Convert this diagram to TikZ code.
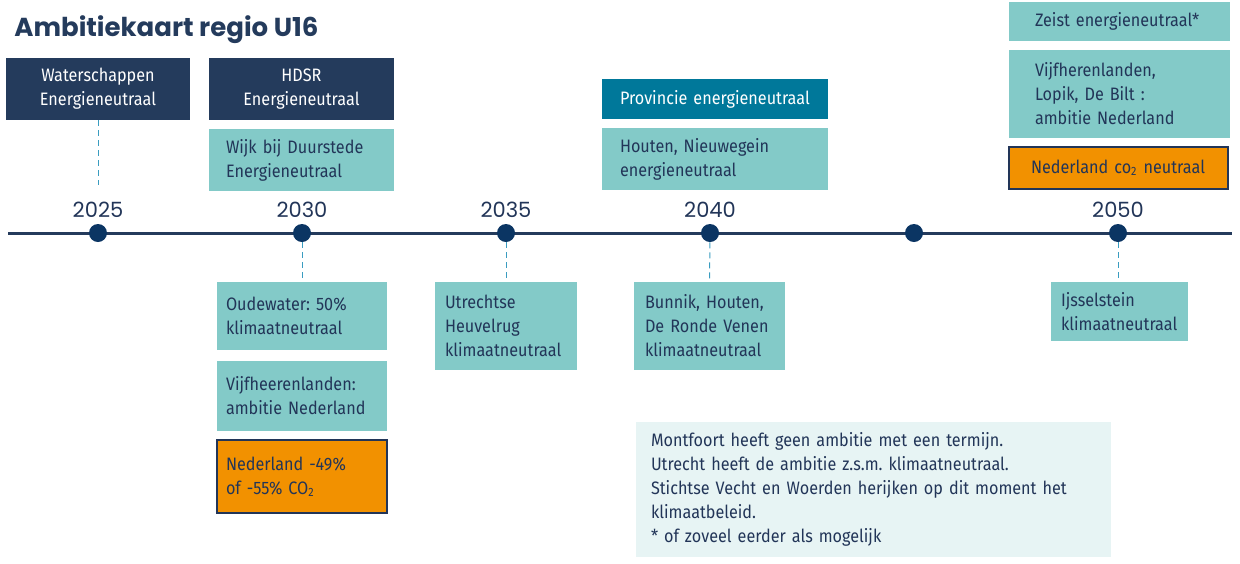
\documentclass[tikz,border=0pt]{standalone}
\usepackage{fontspec}
\setmainfont{Fira Sans}[FakeStretch=0.9]
\newfontfamily\poppins{Poppins}
\usetikzlibrary{positioning}
\frenchspacing
\definecolor{navy}{HTML}{243B5C}
\definecolor{ink}{HTML}{223558}
\definecolor{lagoon}{HTML}{83CAC8}
\definecolor{petrol}{HTML}{00789A}
\definecolor{oranje}{HTML}{F29100}
\definecolor{mist}{HTML}{E7F4F4}
\definecolor{dotblue}{HTML}{0B3563}
\definecolor{dashblue}{HTML}{3A9CC0}

\begin{document}
\begin{tikzpicture}[x=0.5pt,y=-0.5pt,
  every node/.style={font=\fontsize{9}{12}\selectfont},
  darkbox/.style={fill=navy,text=white,align=center,inner sep=0pt},
  lightbox/.style={fill=lagoon,text=ink,align=left,inner ysep=0pt},
  accentbox/.style={fill=petrol,text=white,align=left,inner ysep=0pt},
  targetbox/.style={fill=oranje,draw=ink,line width=1pt,text=ink,align=left,inner ysep=0pt},
  notebox/.style={fill=mist,text=ink,align=left,inner ysep=0pt},
  dot/.style={circle,fill=dotblue,minimum size=9pt,inner sep=0pt},
  year/.style={font=\poppins\fontsize{10.5}{12}\selectfont,text=ink},
  dropline/.style={dashblue,densely dashed,line width=0.5pt}]
\useasboundingbox (0,0) rectangle (1240,563);

% titel
\node[anchor=base west,inner sep=0pt,text=navy,font=\poppins\bfseries\fontsize{13}{15}\selectfont]
  (titel) at (14,36) {Ambitiekaart regio U16};

% tijdlijn
\coordinate (links) at (8,233);
\coordinate (rechts) at (1232,233);
\draw[navy,line width=1.5pt] (links) -- (rechts);
\node[dot] (d25) at (98,233) {};
\node[dot] (d30) at (302,233) {};
\node[dot] (d35) at (506,233) {};
\node[dot] (d40) at (710,233) {};
\node[dot] (d45) at (914,233) {};
\node[dot] (d50) at (1118,233) {};
\node[year] (j25) at (98,210) {2025};
\node[year] (j30) at (302,210) {2030};
\node[year] (j35) at (506,210) {2035};
\node[year] (j40) at (710,210) {2040};
\node[year] (j50) at (1118,210) {2050};

% boven de lijn
\node[darkbox,text width=92pt,minimum height=31pt] (water) at (98,89) {Waterschappen\\Energieneutraal};
\node[darkbox,text width=92.5pt,minimum height=31pt] (hdsr) at (301.5,89) {HDSR\\Energieneutraal};
\node[lightbox,inner xsep=8.5pt,text width=75.5pt,minimum height=31pt] (wijk) at (301.5,160) {Wijk bij Duurstede\\Energieneutraal};
\node[accentbox,inner xsep=9pt,text width=95pt,minimum height=20pt] (prov) at (715,99) {Provincie energieneutraal};
\node[lightbox,inner xsep=9pt,text width=95pt,minimum height=31pt] (houten) at (715,159) {Houten, Nieuwegein\\energieneutraal};
\node[lightbox,inner xsep=13pt,text width=84.5pt,minimum height=19.5pt] (zeist) at (1119.5,21.5) {Zeist energieneutraal*};
\node[lightbox,inner xsep=13pt,text width=84.5pt,minimum height=44pt] (lopik) at (1119.5,94) {Vijfherenlanden,\\Lopik, De Bilt :\\ambitie Nederland};
\node[targetbox,inner xsep=11pt,text width=87.5pt,minimum height=21pt] (nl50) at (1118.5,168) {Nederland co\textsubscript{2} neutraal};
\coordinate (w25) at (98,185);

% onder de lijn
\node[lightbox,inner xsep=4.5pt,text width=76pt,minimum height=34pt] (oude) at (302,316) {Oudewater: 50\%\\klimaatneutraal};
\node[lightbox,inner xsep=4.5pt,text width=76pt,minimum height=35pt] (vijfh) at (302,396) {Vijfheerenlanden:\\ambitie Nederland};
\node[targetbox,inner xsep=4.5pt,text width=76pt,minimum height=36.5pt] (nl30) at (302,476.5) {Nederland -49\%\\of -55\% CO\textsubscript{2}};
\node[lightbox,inner xsep=5pt,text width=61pt,minimum height=44pt] (heuvel) at (506,326) {Utrechtse\\Heuvelrug\\klimaatneutraal};
\node[lightbox,inner xsep=5.5pt,text width=64.5pt,minimum height=44pt] (bunnik) at (709.5,326) {Bunnik, Houten,\\De Ronde Venen\\klimaatneutraal};
\node[lightbox,inner xsep=5pt,text width=58.5pt,minimum height=29.5pt] (ijssel) at (1119.5,311.5) {Ijsselstein\\klimaatneutraal};
\node[notebox,inner xsep=7.5pt,text width=222.5pt,minimum height=67.5pt] (noot) at (873.5,489.5) {Montfoort heeft geen ambitie met een termijn.\\Utrecht heeft de ambitie z.s.m. klimaatneutraal.\\Stichtse Vecht en Woerden herijken op dit moment het\\klimaatbeleid.\\{*} of zoveel eerder als mogelijk};

% stippellijnen
\draw[dropline] (water.south) -- (w25);
\draw[dropline] (d30) -- (oude.north);
\draw[dropline] (d35) -- (heuvel.north);
\draw[dropline] (d40) -- (bunnik.north);
\draw[dropline] (d50) -- (d50 |- ijssel.north);
\end{tikzpicture}
\end{document}
